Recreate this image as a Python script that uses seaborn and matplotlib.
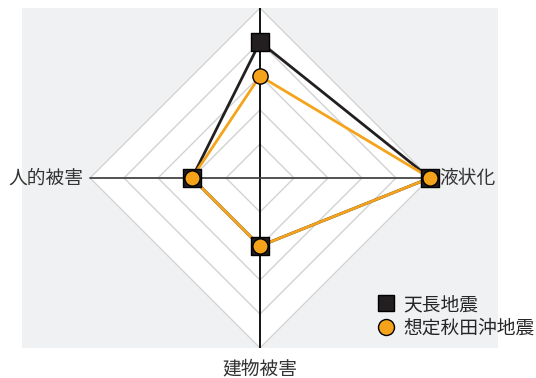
import numpy as np
import pandas as pd
import matplotlib
matplotlib.use('Agg')
import matplotlib.pyplot as plt
from matplotlib.lines import Line2D
import seaborn as sns

# データ (上から時計回り)
categories = ['', '液状化', '建物被害', '人的被害']
tencho = [4, 5, 2, 2]          # 天長地震
akita_oki = [3, 5, 2, 2]       # 想定秋田沖地震
series_names = ['天長地震', '想定秋田沖地震']
max_level = 5

sns.set_theme(style='white')
plt.rcParams['font.family'] = ['Noto Sans CJK JP', 'DejaVu Sans']

angles = np.deg2rad([90, 0, 270, 180])

rows = []
for name, vals in zip(series_names, [tencho, akita_oki]):
    for i in list(range(len(vals))) + [0]:
        rows.append({'地震': name, 'x': vals[i] * np.cos(angles[i]),
                     'y': vals[i] * np.sin(angles[i])})
df = pd.DataFrame(rows)

fig = plt.figure(figsize=(5.36, 3.78), dpi=100)
ax = fig.add_axes([22 / 536, 1 - 348 / 378, 476 / 536, 340 / 378])
ax.set_facecolor('#f0f1f3')

# グリッド (ひし形)
ca = np.append(np.cos(angles), np.cos(angles[0]))
sa = np.append(np.sin(angles), np.sin(angles[0]))
ax.fill(max_level * ca, max_level * sa, color='white', zorder=0)
for lv in range(1, max_level + 1):
    ax.plot(lv * ca, lv * sa, color='#d2d2d2', lw=1, zorder=1)

# 軸
ax.plot([0, 0], [-max_level, max_level], color='black', lw=1.3, zorder=2)
ax.plot([-max_level, max_level], [0, 0], color='#444444', lw=1.3, zorder=2)

palette = {'天長地震': '#231f20', '想定秋田沖地震': '#f5a31a'}
sns.lineplot(data=df, x='x', y='y', hue='地震', palette=palette, sort=False,
             estimator=None, units='地震', lw=2, legend=False, ax=ax, zorder=3)

pts = df.drop_duplicates(subset=['地震', 'x', 'y'])
sq = pts[pts['地震'] == '天長地震']
ci = pts[pts['地震'] == '想定秋田沖地震']
sns.scatterplot(data=sq, x='x', y='y', marker='s', s=150, color='#231f20',
                edgecolor='black', linewidth=1, legend=False, ax=ax, zorder=4)
sns.scatterplot(data=ci, x='x', y='y', marker='o', s=120, color='#f5a31a',
                edgecolor='black', linewidth=1, legend=False, ax=ax, zorder=5)

# ラベル
fs = 13.5
ax.text(5.27, 0, categories[1], ha='left', va='center', fontsize=fs, color='#333333',
        clip_on=False)
ax.text(-5.2, 0, categories[3], ha='right', va='center', fontsize=fs, color='#333333',
        clip_on=False)
ax.text(0, -5.3, categories[2], ha='center', va='top', fontsize=fs, color='#333333',
        clip_on=False)

handles = [
    Line2D([], [], marker='s', ls='', markersize=11, markerfacecolor='#231f20',
           markeredgecolor='black'),
    Line2D([], [], marker='o', ls='', markersize=11.5, markerfacecolor='#f5a31a',
           markeredgecolor='black'),
]
ax.legend(handles, series_names, loc='lower left', bbox_to_anchor=(0.73, 0.005),
          frameon=False, fontsize=fs, handletextpad=0.4, labelspacing=0.15,
          borderaxespad=0, handlelength=1.0)

ax.set_xlim(-7, 7)
ax.set_ylim(-5, 5)
ax.set_xlabel('')
ax.set_ylabel('')
ax.set_xticks([])
ax.set_yticks([])
for s in ax.spines.values():
    s.set_visible(False)

fig.savefig('out.png', dpi=100)
